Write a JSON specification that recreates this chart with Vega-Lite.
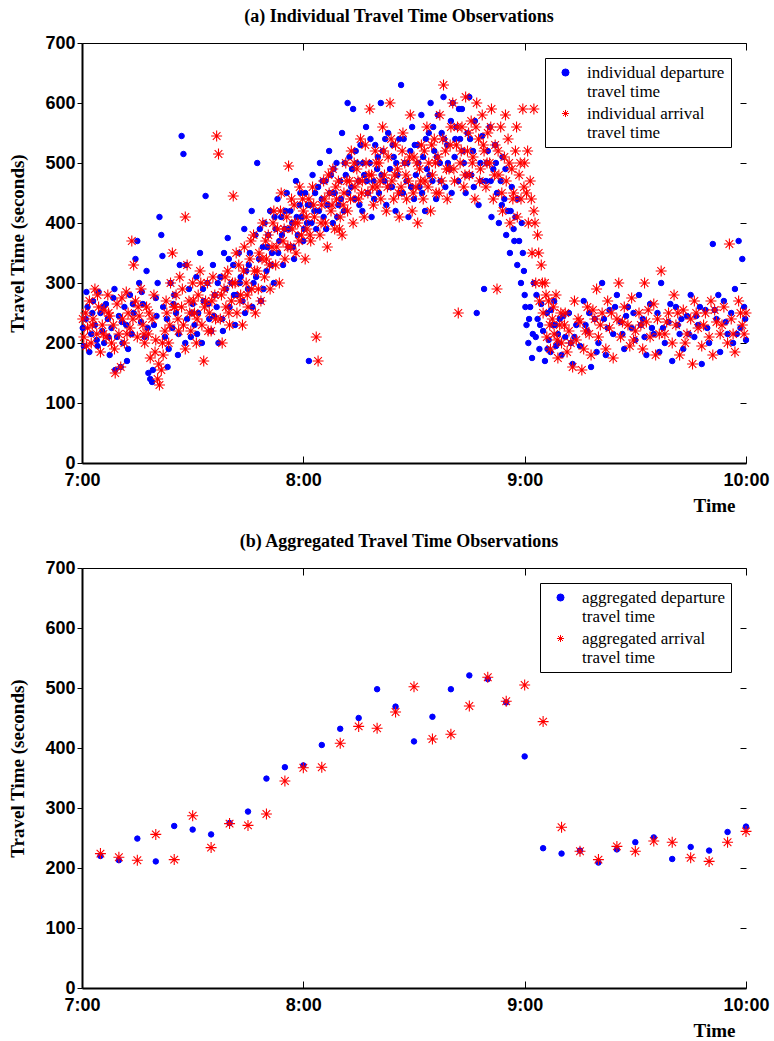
{
"$schema": "https://vega.github.io/schema/vega-lite/v6.json",
"background": "white",
"padding": {"left": 8, "top": 8, "right": 5, "bottom": 5},
"spacing": 18,
"config": {
 "view": {"stroke": null},
 "axis": {"grid": false, "domainColor": "black", "tickColor": "black", "labelColor": "black", "titleColor": "black", "labelFont": "Liberation Sans", "labelFontWeight": "bold", "labelFontSize": 18, "titleFont": "Liberation Serif", "titleFontWeight": "bold", "titleFontSize": 19, "tickWidth": 1},
 "legend": {"orient": "top-right", "offset": 15, "strokeColor": "black", "fillColor": "white", "padding": 6, "labelFont": "Liberation Serif", "labelFontSize": 17, "labelColor": "black", "labelLimit": 400, "symbolSize": 50, "symbolStrokeWidth": 1, "rowPadding": 4, "labelOffset": 13, "cornerRadius": 0, "symbolOffset": 6},
 "title": {"font": "Liberation Serif", "fontSize": 18, "fontWeight": "bold", "color": "black", "offset": 8, "dx": -15}
},
"datasets": {
 "ind_dep": [{"t":0.5,"v":195},{"t":1,"v":240},{"t":1.5,"v":260},{"t":2,"v":185},{"t":2.5,"v":215},{"t":3,"v":270},{"t":3.5,"v":230},{"t":4,"v":205},{"t":4.5,"v":285},{"t":5,"v":250},{"t":5.5,"v":220},{"t":6,"v":200},{"t":6.5,"v":265},{"t":7,"v":240},{"t":7.5,"v":180},{"t":8,"v":225},{"t":8.5,"v":275},{"t":9,"v":155},{"t":9.5,"v":210},{"t":10,"v":245},
{"t":10.5,"v":160},{"t":11,"v":200},{"t":11.5,"v":260},{"t":12,"v":230},{"t":12.5,"v":190},{"t":13,"v":280},{"t":13.5,"v":215},{"t":14,"v":250},{"t":14.5,"v":340},{"t":15,"v":370},{"t":15.5,"v":300},{"t":16,"v":235},{"t":16.5,"v":265},{"t":17,"v":210},{"t":17.5,"v":320},{"t":18,"v":150},{"t":18.5,"v":140},{"t":19,"v":135},{"t":19.5,"v":230},{"t":20,"v":275},
{"t":20.5,"v":300},{"t":21,"v":410},{"t":21.5,"v":380},{"t":22,"v":260},{"t":22.5,"v":210},{"t":23,"v":240},{"t":23.5,"v":190},{"t":24,"v":300},{"t":24.5,"v":225},{"t":25,"v":280},{"t":25.5,"v":250},{"t":26,"v":180},{"t":26.5,"v":330},{"t":27,"v":545},{"t":27.5,"v":515},{"t":28,"v":200},{"t":28.5,"v":240},{"t":29,"v":290},{"t":29.5,"v":210},{"t":30,"v":265},
{"t":30.5,"v":230},{"t":31,"v":310},{"t":31.5,"v":250},{"t":32,"v":350},{"t":32.5,"v":200},{"t":33,"v":270},{"t":33.5,"v":445},{"t":34,"v":300},{"t":34.5,"v":240},{"t":35,"v":220},{"t":35.5,"v":330},{"t":36,"v":280},{"t":36.5,"v":260},{"t":37,"v":200},{"t":37.5,"v":310},{"t":38,"v":240},{"t":38.5,"v":350},{"t":39,"v":290},{"t":39.5,"v":375},{"t":40,"v":260},
{"t":40.5,"v":300},{"t":41,"v":330},{"t":41.5,"v":230},{"t":42,"v":280},{"t":42.5,"v":350},{"t":43,"v":310},{"t":43.5,"v":270},{"t":44,"v":390},{"t":44.5,"v":320},{"t":45,"v":290},{"t":45.5,"v":350},{"t":46,"v":420},{"t":46.5,"v":300},{"t":47,"v":380},{"t":47.5,"v":500},{"t":48,"v":340},{"t":48.5,"v":270},{"t":49,"v":360},{"t":49.5,"v":400},{"t":50,"v":320},
{"t":50.5,"v":380},{"t":51,"v":420},{"t":51.5,"v":350},{"t":52,"v":300},{"t":52.5,"v":390},{"t":53,"v":440},{"t":53.5,"v":370},{"t":54,"v":410},{"t":54.5,"v":330},{"t":55,"v":390},{"t":55.5,"v":450},{"t":56,"v":360},{"t":56.5,"v":420},{"t":57,"v":400},{"t":57.5,"v":340},{"t":58,"v":470},{"t":58.5,"v":380},{"t":59,"v":430},{"t":59.5,"v":410},{"t":60,"v":370},
{"t":60.5,"v":450},{"t":61,"v":400},{"t":61.5,"v":170},{"t":62,"v":430},{"t":62.5,"v":480},{"t":63,"v":420},{"t":63.5,"v":390},{"t":64,"v":460},{"t":64.5,"v":500},{"t":65,"v":440},{"t":65.5,"v":410},{"t":66,"v":470},{"t":66.5,"v":430},{"t":67,"v":520},{"t":67.5,"v":480},{"t":68,"v":400},{"t":68.5,"v":450},{"t":69,"v":500},{"t":69.5,"v":430},{"t":70,"v":470},
{"t":70.5,"v":550},{"t":71,"v":420},{"t":71.5,"v":480},{"t":72,"v":600},{"t":72.5,"v":510},{"t":73,"v":460},{"t":73.5,"v":590},{"t":74,"v":440},{"t":74.5,"v":500},{"t":75,"v":470},{"t":75.5,"v":530},{"t":76,"v":420},{"t":76.5,"v":480},{"t":77,"v":560},{"t":77.5,"v":450},{"t":78,"v":500},{"t":78.5,"v":410},{"t":79,"v":470},{"t":79.5,"v":530},{"t":80,"v":490},
{"t":80.5,"v":450},{"t":81,"v":600},{"t":81.5,"v":520},{"t":82,"v":470},{"t":82.5,"v":430},{"t":83,"v":550},{"t":83.5,"v":490},{"t":84,"v":460},{"t":84.5,"v":510},{"t":85,"v":420},{"t":85.5,"v":480},{"t":86,"v":540},{"t":86.5,"v":630},{"t":87,"v":450},{"t":87.5,"v":500},{"t":88,"v":470},{"t":88.5,"v":410},{"t":89,"v":520},{"t":89.5,"v":560},{"t":90,"v":440},
{"t":90.5,"v":480},{"t":91,"v":530},{"t":91.5,"v":460},{"t":92,"v":580},{"t":92.5,"v":510},{"t":93,"v":420},{"t":93.5,"v":490},{"t":94,"v":550},{"t":94.5,"v":600},{"t":95,"v":470},{"t":95.5,"v":520},{"t":96,"v":440},{"t":96.5,"v":580},{"t":97,"v":500},{"t":97.5,"v":550},{"t":98,"v":610},{"t":98.5,"v":460},{"t":99,"v":530},{"t":99.5,"v":490},{"t":100,"v":570},
{"t":100.5,"v":600},{"t":101,"v":510},{"t":101.5,"v":560},{"t":102,"v":470},{"t":102.5,"v":540},{"t":103,"v":590},{"t":103.5,"v":500},{"t":104,"v":450},{"t":104.5,"v":550},{"t":105,"v":610},{"t":105.5,"v":480},{"t":106,"v":520},{"t":106.5,"v":570},{"t":107,"v":250},{"t":107.5,"v":430},{"t":108,"v":500},{"t":108.5,"v":545},{"t":109,"v":290},{"t":109.5,"v":470},{"t":110,"v":520},
{"t":110.5,"v":560},{"t":111,"v":410},{"t":111.5,"v":490},{"t":112,"v":530},{"t":112.5,"v":450},{"t":113,"v":400},{"t":113.5,"v":470},{"t":114,"v":510},{"t":114.5,"v":440},{"t":115,"v":380},{"t":115.5,"v":420},{"t":116,"v":350},{"t":116.5,"v":460},{"t":117,"v":390},{"t":117.5,"v":410},{"t":118,"v":330},{"t":118.5,"v":370},{"t":119,"v":300},{"t":119.5,"v":350},{"t":120,"v":280},
{"t":120.5,"v":230},{"t":121,"v":200},{"t":121.5,"v":260},{"t":122,"v":175},{"t":122.5,"v":300},{"t":123,"v":210},{"t":123.5,"v":240},{"t":124,"v":190},{"t":124.5,"v":265},{"t":125,"v":220},{"t":125.5,"v":170},{"t":126,"v":250},{"t":126.5,"v":205},{"t":127,"v":185},{"t":127.5,"v":230},{"t":128,"v":270},{"t":128.5,"v":195},{"t":129,"v":215},{"t":129.5,"v":240},{"t":130,"v":180},
{"t":131,"v":210},{"t":132,"v":250},{"t":133,"v":165},{"t":134,"v":230},{"t":135,"v":195},{"t":136,"v":270},{"t":137,"v":220},{"t":138,"v":160},{"t":139,"v":240},{"t":140,"v":200},{"t":141,"v":300},{"t":142,"v":180},{"t":143,"v":255},{"t":144,"v":215},{"t":145,"v":280},{"t":146,"v":235},{"t":147,"v":190},{"t":148,"v":260},{"t":149,"v":225},{"t":150,"v":205},{"t":151,"v":280},{"t":152,"v":240},{"t":153,"v":180},{"t":154,"v":265},{"t":155,"v":215},{"t":156,"v":250},{"t":157,"v":300},{"t":158,"v":200},{"t":159,"v":235},{"t":160,"v":170},{"t":161,"v":260},{"t":162,"v":215},{"t":163,"v":190},{"t":164,"v":245},{"t":165,"v":280},{"t":166,"v":210},{"t":167,"v":230},{"t":168,"v":165},{"t":169,"v":255},{"t":170,"v":200},{"t":171,"v":365},{"t":172,"v":240},{"t":173,"v":185},{"t":174,"v":270},{"t":175,"v":215},{"t":176,"v":250},{"t":177,"v":290},{"t":178,"v":370},{"t":178.5,"v":225},{"t":179,"v":340},{"t":179.5,"v":260},{"t":180,"v":205},{"t":176.5,"v":200},{"t":172.5,"v":280},{"t":167.5,"v":260},{"t":162.5,"v":240},{"t":157.5,"v":225},{"t":152.5,"v":210},{"t":147.5,"v":245},{"t":142.5,"v":225},{"t":137.5,"v":250},{"t":132.5,"v":200},
{"t":0.2,"v":225},{"t":1.2,"v":285},{"t":2.8,"v":250},{"t":4.2,"v":195},{"t":5.8,"v":260},{"t":7.2,"v":210},{"t":8.8,"v":290},{"t":10.8,"v":235},{"t":12.2,"v":170},{"t":13.8,"v":265},{"t":16.2,"v":285},{"t":17.8,"v":225},{"t":19.2,"v":155},{"t":20.2,"v":245},{"t":21.8,"v":345},{"t":23.2,"v":160},{"t":24.8,"v":265},{"t":26.2,"v":215},
{"t":28.2,"v":330},{"t":29.8,"v":250},{"t":31.2,"v":215},{"t":32.8,"v":290},{"t":34.2,"v":265},{"t":35.8,"v":245},{"t":36.8,"v":300},{"t":38.2,"v":220},{"t":39.8,"v":340},{"t":41.2,"v":280},{"t":42.8,"v":300},{"t":44.2,"v":250},{"t":45.2,"v":330},{"t":46.2,"v":260},{"t":47.2,"v":310},{"t":48.2,"v":390},{"t":49.2,"v":290},{"t":50.2,"v":360},
{"t":51.2,"v":330},{"t":52.2,"v":410},{"t":53.2,"v":350},{"t":54.2,"v":380},{"t":55.2,"v":420},{"t":56.2,"v":390},{"t":57.2,"v":360},{"t":58.2,"v":410},{"t":59.2,"v":450},{"t":60.2,"v":390},{"t":61.2,"v":430},{"t":62.2,"v":400},{"t":63.2,"v":450},{"t":64.2,"v":420},{"t":65.2,"v":470},{"t":66.2,"v":390},{"t":67.2,"v":450},{"t":68.2,"v":490},{"t":69.2,"v":410},{"t":70.2,"v":440},
{"t":71.2,"v":500},{"t":72.2,"v":450},{"t":73.2,"v":490},{"t":74.2,"v":520},{"t":75.2,"v":430},{"t":76.2,"v":500},{"t":77.2,"v":470},{"t":78.2,"v":540},{"t":79.2,"v":440},{"t":80.2,"v":510},{"t":81.2,"v":480},{"t":82.2,"v":540},{"t":83.2,"v":460},{"t":84.2,"v":530},{"t":85.2,"v":500},{"t":86.2,"v":450},{"t":87.2,"v":540},{"t":88.2,"v":500},{"t":89.2,"v":460},{"t":90.2,"v":530},
{"t":91.2,"v":500},{"t":92.2,"v":450},{"t":93.2,"v":540},{"t":94.2,"v":480},{"t":95.2,"v":560},{"t":96.2,"v":510},{"t":97.2,"v":470},{"t":98.2,"v":540},{"t":99.2,"v":500},{"t":100.2,"v":450},{"t":101.2,"v":540},{"t":102.2,"v":590},{"t":103.2,"v":520},{"t":104.2,"v":480},{"t":105.2,"v":540},{"t":106.2,"v":460},{"t":108.2,"v":470},{"t":109.8,"v":500},{"t":110.8,"v":470},{"t":112.2,"v":500},{"t":113.8,"v":430},{"t":114.8,"v":490},{"t":116.2,"v":420},{"t":117.2,"v":370},{"t":118.2,"v":440},{"t":119.2,"v":400},{"t":119.8,"v":320},
{"t":120.2,"v":260},{"t":121.2,"v":240},{"t":122.2,"v":215},{"t":123.2,"v":280},{"t":124.2,"v":230},{"t":126.2,"v":190},{"t":127.2,"v":255},{"t":128.2,"v":230},{"t":129.2,"v":200},{"t":130.5,"v":245},{"t":133.5,"v":210},{"t":136.5,"v":230},{"t":139.5,"v":185},{"t":141.5,"v":240},{"t":144.5,"v":260},{"t":146.5,"v":215},{"t":149.5,"v":250},{"t":151.5,"v":230},{"t":154.5,"v":225},{"t":156.5,"v":185},{"t":159.5,"v":265},{"t":161.5,"v":230},{"t":164.5,"v":215},{"t":166.5,"v":245},{"t":169.5,"v":225},{"t":171.5,"v":255},{"t":174.5,"v":235},{"t":177.5,"v":215},{"t":179.8,"v":240}],
 "ind_arr": [{"t":0.5,"v":210},{"t":1,"v":250},{"t":1.5,"v":225},{"t":2,"v":270},{"t":2.5,"v":200},{"t":3,"v":240},{"t":3.5,"v":290},{"t":4,"v":215},{"t":4.5,"v":260},{"t":5,"v":185},{"t":5.5,"v":230},{"t":6,"v":255},{"t":6.5,"v":210},{"t":7,"v":280},{"t":7.5,"v":245},{"t":8,"v":200},{"t":8.5,"v":230},{"t":9,"v":150},{"t":9.5,"v":265},{"t":10,"v":215},
{"t":10.5,"v":160},{"t":11,"v":240},{"t":11.5,"v":200},{"t":12,"v":285},{"t":12.5,"v":250},{"t":13,"v":225},{"t":13.5,"v":370},{"t":14,"v":330},{"t":14.5,"v":270},{"t":15,"v":210},{"t":15.5,"v":245},{"t":16,"v":290},{"t":16.5,"v":230},{"t":17,"v":200},{"t":17.5,"v":260},{"t":18,"v":215},{"t":18.5,"v":175},{"t":19,"v":240},{"t":19.5,"v":280},{"t":20,"v":205},
{"t":20.5,"v":140},{"t":21,"v":130},{"t":21.5,"v":155},{"t":22,"v":180},{"t":22.5,"v":220},{"t":23,"v":250},{"t":23.5,"v":200},{"t":24,"v":300},{"t":24.5,"v":350},{"t":25,"v":260},{"t":25.5,"v":280},{"t":26,"v":240},{"t":26.5,"v":310},{"t":27,"v":260},{"t":27.5,"v":230},{"t":28,"v":190},{"t":28.5,"v":330},{"t":29,"v":270},{"t":29.5,"v":220},{"t":30,"v":300},
{"t":30.5,"v":250},{"t":31,"v":200},{"t":31.5,"v":280},{"t":32,"v":320},{"t":32.5,"v":230},{"t":33,"v":170},{"t":33.5,"v":270},{"t":34,"v":300},{"t":34.5,"v":250},{"t":35,"v":220},{"t":35.5,"v":310},{"t":36,"v":280},{"t":36.5,"v":545},{"t":37,"v":515},{"t":37.5,"v":240},{"t":38,"v":200},{"t":38.5,"v":290},{"t":39,"v":260},{"t":39.5,"v":320},{"t":40,"v":230},
{"t":40.5,"v":270},{"t":41,"v":445},{"t":41.5,"v":300},{"t":42,"v":250},{"t":42.5,"v":330},{"t":43,"v":280},{"t":43.5,"v":230},{"t":44,"v":360},{"t":44.5,"v":300},{"t":45,"v":260},{"t":45.5,"v":340},{"t":46,"v":290},{"t":46.5,"v":380},{"t":47,"v":250},{"t":47.5,"v":320},{"t":48,"v":350},{"t":48.5,"v":270},{"t":49,"v":400},{"t":49.5,"v":310},{"t":50,"v":340},
{"t":50.5,"v":380},{"t":51,"v":290},{"t":51.5,"v":360},{"t":52,"v":420},{"t":52.5,"v":330},{"t":53,"v":390},{"t":53.5,"v":300},{"t":54,"v":450},{"t":54.5,"v":370},{"t":55,"v":340},{"t":55.5,"v":410},{"t":56,"v":495},{"t":56.5,"v":360},{"t":57,"v":390},{"t":57.5,"v":430},{"t":58,"v":350},{"t":58.5,"v":400},{"t":59,"v":460},{"t":59.5,"v":380},{"t":60,"v":420},
{"t":60.5,"v":340},{"t":61,"v":390},{"t":61.5,"v":440},{"t":62,"v":370},{"t":62.5,"v":460},{"t":63,"v":410},{"t":63.5,"v":210},{"t":64,"v":170},{"t":64.5,"v":380},{"t":65,"v":430},{"t":65.5,"v":470},{"t":66,"v":400},{"t":66.5,"v":360},{"t":67,"v":450},{"t":67.5,"v":420},{"t":68,"v":490},{"t":68.5,"v":390},{"t":69,"v":440},{"t":69.5,"v":470},{"t":70,"v":410},
{"t":70.5,"v":380},{"t":71,"v":450},{"t":71.5,"v":500},{"t":72,"v":420},{"t":72.5,"v":470},{"t":73,"v":520},{"t":73.5,"v":400},{"t":74,"v":460},{"t":74.5,"v":490},{"t":75,"v":440},{"t":75.5,"v":540},{"t":76,"v":470},{"t":76.5,"v":410},{"t":77,"v":500},{"t":77.5,"v":450},{"t":78,"v":590},{"t":78.5,"v":480},{"t":79,"v":430},{"t":79.5,"v":520},{"t":80,"v":460},
{"t":80.5,"v":500},{"t":81,"v":440},{"t":81.5,"v":560},{"t":82,"v":480},{"t":82.5,"v":420},{"t":83,"v":510},{"t":83.5,"v":600},{"t":84,"v":470},{"t":84.5,"v":440},{"t":85,"v":530},{"t":85.5,"v":490},{"t":86,"v":410},{"t":86.5,"v":460},{"t":87,"v":550},{"t":87.5,"v":500},{"t":88,"v":440},{"t":88.5,"v":470},{"t":89,"v":580},{"t":89.5,"v":420},{"t":90,"v":510},
{"t":90.5,"v":460},{"t":91,"v":400},{"t":91.5,"v":490},{"t":92,"v":530},{"t":92.5,"v":440},{"t":93,"v":470},{"t":93.5,"v":560},{"t":94,"v":500},{"t":94.5,"v":420},{"t":95,"v":480},{"t":95.5,"v":540},{"t":96,"v":450},{"t":96.5,"v":510},{"t":97,"v":580},{"t":97.5,"v":470},{"t":98,"v":630},{"t":98.5,"v":520},{"t":99,"v":440},{"t":99.5,"v":490},{"t":100,"v":560},
{"t":100.5,"v":600},{"t":101,"v":470},{"t":101.5,"v":530},{"t":102,"v":250},{"t":102.5,"v":500},{"t":103,"v":560},{"t":103.5,"v":460},{"t":104,"v":610},{"t":104.5,"v":520},{"t":105,"v":480},{"t":105.5,"v":570},{"t":106,"v":510},{"t":106.5,"v":440},{"t":107,"v":600},{"t":107.5,"v":540},{"t":108,"v":490},{"t":108.5,"v":580},{"t":109,"v":520},{"t":109.5,"v":460},{"t":110,"v":550},
{"t":110.5,"v":500},{"t":111,"v":590},{"t":111.5,"v":440},{"t":112,"v":530},{"t":112.5,"v":290},{"t":113,"v":480},{"t":113.5,"v":560},{"t":114,"v":420},{"t":114.5,"v":510},{"t":115,"v":470},{"t":115.5,"v":540},{"t":116,"v":400},{"t":116.5,"v":490},{"t":117,"v":450},{"t":117.5,"v":520},{"t":118,"v":410},{"t":118.5,"v":480},{"t":119,"v":440},{"t":119.5,"v":590},{"t":120,"v":500},
{"t":120.5,"v":450},{"t":121,"v":400},{"t":121.5,"v":470},{"t":122,"v":350},{"t":122.5,"v":420},{"t":123,"v":300},{"t":123.5,"v":380},{"t":124,"v":270},{"t":124.5,"v":330},{"t":125,"v":250},{"t":125.5,"v":300},{"t":126,"v":210},{"t":126.5,"v":270},{"t":127,"v":190},{"t":127.5,"v":240},{"t":128,"v":215},{"t":128.5,"v":280},{"t":129,"v":175},{"t":129.5,"v":230},{"t":130,"v":200},
{"t":131,"v":250},{"t":131.5,"v":185},{"t":132,"v":220},{"t":133,"v":160},{"t":133.5,"v":270},{"t":134,"v":205},{"t":135,"v":235},{"t":135.5,"v":155},{"t":136,"v":190},{"t":137,"v":260},{"t":137.5,"v":215},{"t":138,"v":180},{"t":139,"v":240},{"t":139.5,"v":290},{"t":140,"v":210},{"t":141,"v":250},{"t":142,"v":190},{"t":142.5,"v":270},{"t":143,"v":225},{"t":144,"v":175},{"t":145,"v":240},{"t":145.5,"v":300},{"t":146,"v":210},{"t":147,"v":260},{"t":148,"v":230},{"t":148.5,"v":195},{"t":149,"v":275},{"t":150,"v":220},{"t":151,"v":250},{"t":152,"v":190},{"t":152.5,"v":300},{"t":153,"v":235},{"t":154,"v":210},{"t":155,"v":265},{"t":155.5,"v":180},{"t":156,"v":240},{"t":157,"v":320},{"t":158,"v":215},{"t":159,"v":250},{"t":160,"v":200},{"t":160.5,"v":280},{"t":161,"v":230},{"t":162,"v":180},{"t":163,"v":255},{"t":164,"v":215},{"t":165,"v":240},{"t":165.5,"v":165},{"t":166,"v":270},{"t":167,"v":225},{"t":168,"v":195},{"t":169,"v":250},{"t":170,"v":210},{"t":170.5,"v":270},{"t":171,"v":180},{"t":172,"v":235},{"t":173,"v":215},{"t":174,"v":260},{"t":175,"v":200},{"t":175.5,"v":365},{"t":176,"v":240},{"t":177,"v":185},{"t":178,"v":270},{"t":179,"v":230},{"t":179.5,"v":215},{"t":180,"v":250},
{"t":0.2,"v":240},{"t":1.2,"v":195},{"t":2.8,"v":230},{"t":4.2,"v":280},{"t":5.8,"v":215},{"t":7.2,"v":250},{"t":8.8,"v":190},{"t":10.8,"v":275},{"t":12.2,"v":215},{"t":13.8,"v":240},{"t":15.2,"v":260},{"t":16.8,"v":215},{"t":18.2,"v":250},{"t":19.8,"v":185},{"t":20.8,"v":165},{"t":21.8,"v":200},{"t":22.8,"v":270},{"t":23.8,"v":230},{"t":25.2,"v":260},{"t":26.2,"v":220},{"t":27.2,"v":290},{"t":28,"v":410},{"t":29.2,"v":250},
{"t":30.2,"v":270},{"t":31.2,"v":240},{"t":32.2,"v":300},{"t":33.2,"v":260},{"t":34.2,"v":220},{"t":35.2,"v":270},{"t":36.2,"v":240},{"t":37.8,"v":280},{"t":38.8,"v":310},{"t":39.8,"v":250},{"t":40.8,"v":300},{"t":41.8,"v":350},{"t":42.8,"v":270},{"t":43.8,"v":320},{"t":44.8,"v":280},{"t":45.8,"v":370},{"t":46.8,"v":320},{"t":47.8,"v":290},{"t":48.8,"v":340},{"t":49.8,"v":370},
{"t":50.8,"v":330},{"t":51.8,"v":400},{"t":52.8,"v":360},{"t":53.8,"v":420},{"t":54.8,"v":390},{"t":55.8,"v":360},{"t":56.8,"v":440},{"t":57.8,"v":400},{"t":58.8,"v":370},{"t":59.8,"v":440},{"t":60.8,"v":410},{"t":61.8,"v":380},{"t":62.8,"v":430},{"t":64.8,"v":400},{"t":65.8,"v":440},{"t":66.8,"v":480},{"t":67.8,"v":430},{"t":68.8,"v":460},{"t":69.8,"v":390},
{"t":70.8,"v":430},{"t":71.8,"v":470},{"t":72.8,"v":440},{"t":73.8,"v":500},{"t":74.8,"v":470},{"t":75.8,"v":450},{"t":76.8,"v":530},{"t":77.8,"v":480},{"t":78.8,"v":460},{"t":79.8,"v":500},{"t":80.8,"v":470},{"t":81.8,"v":520},{"t":82.8,"v":460},{"t":83.8,"v":540},{"t":84.8,"v":480},{"t":85.8,"v":450},{"t":86.8,"v":520},{"t":87.8,"v":480},{"t":88.8,"v":510},{"t":89.8,"v":450},{"t":90.8,"v":500},{"t":91.8,"v":470},{"t":92.8,"v":520},{"t":93.8,"v":460},{"t":94.8,"v":530},{"t":95.8,"v":500},{"t":96.8,"v":450},{"t":97.8,"v":540},{"t":98.8,"v":490},{"t":99.8,"v":530},
{"t":100.8,"v":490},{"t":101.8,"v":560},{"t":102.8,"v":520},{"t":103.8,"v":480},{"t":104.8,"v":550},{"t":105.8,"v":500},{"t":106.8,"v":560},{"t":107.8,"v":470},{"t":108.8,"v":530},{"t":109.8,"v":500},{"t":110.8,"v":560},{"t":111.8,"v":480},{"t":112.8,"v":520},{"t":113.8,"v":450},{"t":114.8,"v":580},{"t":115.8,"v":500},{"t":116.8,"v":440},{"t":117.8,"v":560},{"t":118.8,"v":500},{"t":119.8,"v":460},{"t":120.8,"v":520},{"t":121.8,"v":440},{"t":122.5,"v":590},{"t":122.8,"v":400},{"t":123.8,"v":350},{"t":124.8,"v":300},{"t":125.8,"v":280},{"t":126.8,"v":230},{"t":127.8,"v":260},{"t":128.8,"v":205},{"t":129.8,"v":250},
{"t":130.8,"v":230},{"t":132.5,"v":200},{"t":134.5,"v":240},{"t":136.5,"v":220},{"t":138.5,"v":255},{"t":140.5,"v":230},{"t":143.5,"v":250},{"t":146.5,"v":235},{"t":149.5,"v":205},{"t":151.5,"v":230},{"t":153.5,"v":255},{"t":156.5,"v":215},{"t":158.5,"v":235},{"t":161.5,"v":250},{"t":163.5,"v":200},{"t":166.5,"v":250},{"t":168.5,"v":230},{"t":171.5,"v":255},{"t":173.5,"v":230},{"t":176.5,"v":215},{"t":178.5,"v":250}],
 "agg_dep": [{"t":5,"v":220},{"t":10,"v":213},{"t":15,"v":249},{"t":20,"v":211},{"t":25,"v":270},{"t":30,"v":264},{"t":35,"v":256},{"t":40,"v":275},{"t":45,"v":294},{"t":50,"v":349},{"t":55,"v":368},{"t":60,"v":371},{"t":65,"v":405},{"t":70,"v":432},{"t":75,"v":450},{"t":80,"v":498},{"t":85,"v":469},{"t":90,"v":411},{"t":95,"v":452},{"t":100,"v":498},{"t":105,"v":521},{"t":110,"v":515},{"t":115,"v":476},{"t":120,"v":386},{"t":125,"v":233},{"t":130,"v":224},{"t":135,"v":229},{"t":140,"v":209},{"t":145,"v":231},{"t":150,"v":243},{"t":155,"v":251},{"t":160,"v":215},{"t":165,"v":235},{"t":170,"v":229},{"t":175,"v":260},{"t":180,"v":269}],
 "agg_arr": [{"t":5,"v":224},{"t":10,"v":218},{"t":15,"v":213},{"t":20,"v":256},{"t":25,"v":214},{"t":30,"v":287},{"t":35,"v":234},{"t":40,"v":274},{"t":45,"v":271},{"t":50,"v":290},{"t":55,"v":345},{"t":60,"v":367},{"t":65,"v":368},{"t":70,"v":408},{"t":75,"v":436},{"t":80,"v":433},{"t":85,"v":460},{"t":90,"v":502},{"t":95,"v":415},{"t":100,"v":423},{"t":105,"v":470},{"t":110,"v":518},{"t":115,"v":478},{"t":120,"v":505},{"t":125,"v":444},{"t":130,"v":268},{"t":135,"v":228},{"t":140,"v":214},{"t":145,"v":236},{"t":150,"v":228},{"t":155,"v":245},{"t":160,"v":243},{"t":165,"v":217},{"t":170,"v":211},{"t":175,"v":243},{"t":180,"v":261}]
},
"vconcat": [
 {
  "width": 664, "height": 420,
  "title": {"text": "(a) Individual Travel Time Observations"},
  "resolve": {"axis": {"x": "independent", "y": "independent"}},
  "layer": [
   {"data": {"name": "ind_dep"},
    "mark": {"type": "point", "size": 30, "strokeWidth": 1, "fillOpacity": 1, "strokeOpacity": 1},
    "encoding": {
     "x": {"field": "t", "type": "quantitative", "scale": {"domain": [0, 180], "nice": false, "zero": false}, "axis": {"orient": "bottom", "values": [0, 60, 120, 180], "labelExpr": "(7 + datum.value / 60) + ':00'", "tickSize": -7, "labelPadding": 15, "domainWidth": 2, "labelFlush": false, "title": "Time", "titleX": 632, "titleY": 48, "titleAlign": "center", "titleBaseline": "alphabetic"}},
     "y": {"field": "v", "type": "quantitative", "scale": {"domain": [0, 700], "nice": false}, "axis": {"orient": "left", "values": [0, 100, 200, 300, 400, 500, 600, 700], "tickSize": 5, "labelPadding": 2, "domainWidth": 2, "title": "Travel Time (seconds)", "titleX": -65, "titleY": 200, "titleAngle": -90, "titleAlign": "center", "titleBaseline": "middle"}},
     "fill": {"datum": "individual departure|travel time", "type": "nominal", "scale": {"domain": ["individual departure|travel time", "individual arrival|travel time"], "range": ["#0000ff", "#ff0000"]}, "legend": {"title": null, "labelExpr": "split(datum.label, '|')"}},
     "stroke": {"datum": "individual departure|travel time", "type": "nominal", "scale": {"domain": ["individual departure|travel time", "individual arrival|travel time"], "range": ["#0000ff", "#ff0000"]}, "legend": {"title": null, "labelExpr": "split(datum.label, '|')"}},
     "shape": {"datum": "individual departure|travel time", "type": "nominal", "scale": {"domain": ["individual departure|travel time", "individual arrival|travel time"], "range": ["circle", "M-1,0L1,0M0,-1L0,1M-0.7,-0.7L0.7,0.7M-0.7,0.7L0.7,-0.7"]}, "legend": {"title": null, "labelExpr": "split(datum.label, '|')"}}
    }},
   {"data": {"name": "ind_arr"},
    "mark": {"type": "point", "size": 120, "strokeWidth": 1.1, "fillOpacity": 1, "strokeOpacity": 1},
    "encoding": {
     "x": {"field": "t", "type": "quantitative", "axis": {"orient": "top", "values": [0, 60, 120, 180], "labels": false, "tickSize": -7, "domainWidth": 1, "title": null}},
     "y": {"field": "v", "type": "quantitative", "axis": {"orient": "right", "values": [0, 100, 200, 300, 400, 500, 600, 700], "labels": false, "tickSize": -6, "domain": false, "title": null}},
     "fill": {"datum": "individual arrival|travel time", "type": "nominal", "legend": {"title": null, "labelExpr": "split(datum.label, '|')"}},
     "stroke": {"datum": "individual arrival|travel time", "type": "nominal", "legend": {"title": null, "labelExpr": "split(datum.label, '|')"}},
     "shape": {"datum": "individual arrival|travel time", "type": "nominal", "legend": {"title": null, "labelExpr": "split(datum.label, '|')"}}
    }}
  ]
 },
 {
  "width": 664, "height": 420,
  "title": {"text": "(b) Aggregated Travel Time Observations"},
  "resolve": {"axis": {"x": "independent", "y": "independent"}},
  "layer": [
   {"data": {"name": "agg_dep"},
    "mark": {"type": "point", "size": 30, "strokeWidth": 1, "fillOpacity": 1, "strokeOpacity": 1},
    "encoding": {
     "x": {"field": "t", "type": "quantitative", "scale": {"domain": [0, 180], "nice": false, "zero": false}, "axis": {"orient": "bottom", "values": [0, 60, 120, 180], "labelExpr": "(7 + datum.value / 60) + ':00'", "tickSize": -7, "labelPadding": 15, "domainWidth": 2, "labelFlush": false, "title": "Time", "titleX": 632, "titleY": 48, "titleAlign": "center", "titleBaseline": "alphabetic"}},
     "y": {"field": "v", "type": "quantitative", "scale": {"domain": [0, 700], "nice": false}, "axis": {"orient": "left", "values": [0, 100, 200, 300, 400, 500, 600, 700], "tickSize": 5, "labelPadding": 2, "domainWidth": 2, "title": "Travel Time (seconds)", "titleX": -65, "titleY": 200, "titleAngle": -90, "titleAlign": "center", "titleBaseline": "middle"}},
     "fill": {"datum": "aggregated departure|travel time", "type": "nominal", "scale": {"domain": ["aggregated departure|travel time", "aggregated arrival|travel time"], "range": ["#0000ff", "#ff0000"]}, "legend": {"title": null, "labelExpr": "split(datum.label, '|')"}},
     "stroke": {"datum": "aggregated departure|travel time", "type": "nominal", "scale": {"domain": ["aggregated departure|travel time", "aggregated arrival|travel time"], "range": ["#0000ff", "#ff0000"]}, "legend": {"title": null, "labelExpr": "split(datum.label, '|')"}},
     "shape": {"datum": "aggregated departure|travel time", "type": "nominal", "scale": {"domain": ["aggregated departure|travel time", "aggregated arrival|travel time"], "range": ["circle", "M-1,0L1,0M0,-1L0,1M-0.7,-0.7L0.7,0.7M-0.7,0.7L0.7,-0.7"]}, "legend": {"title": null, "labelExpr": "split(datum.label, '|')"}}
    }},
   {"data": {"name": "agg_arr"},
    "mark": {"type": "point", "size": 120, "strokeWidth": 1.1, "fillOpacity": 1, "strokeOpacity": 1},
    "encoding": {
     "x": {"field": "t", "type": "quantitative", "axis": {"orient": "top", "values": [0, 60, 120, 180], "labels": false, "tickSize": -7, "domainWidth": 1, "title": null}},
     "y": {"field": "v", "type": "quantitative", "axis": {"orient": "right", "values": [0, 100, 200, 300, 400, 500, 600, 700], "labels": false, "tickSize": -6, "domain": false, "title": null}},
     "fill": {"datum": "aggregated arrival|travel time", "type": "nominal", "legend": {"title": null, "labelExpr": "split(datum.label, '|')"}},
     "stroke": {"datum": "aggregated arrival|travel time", "type": "nominal", "legend": {"title": null, "labelExpr": "split(datum.label, '|')"}},
     "shape": {"datum": "aggregated arrival|travel time", "type": "nominal", "legend": {"title": null, "labelExpr": "split(datum.label, '|')"}}
    }}
  ]
 }
],
"resolve": {"scale": {"fill": "independent", "stroke": "independent", "shape": "independent"}, "legend": {"fill": "independent", "stroke": "independent", "shape": "independent"}}
}
